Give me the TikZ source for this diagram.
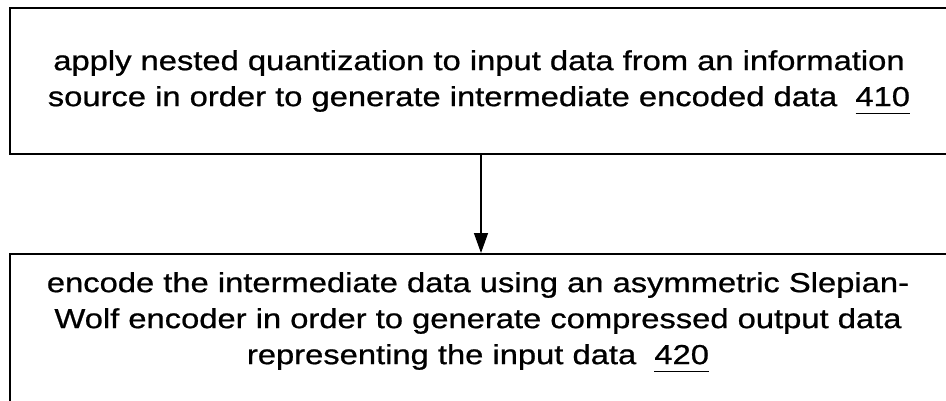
\documentclass[tikz,border=0pt]{standalone}
\usepackage{fontspec}
\setmainfont[FakeStretch=1.19,FakeBold=0.8]{Liberation Sans}
\usetikzlibrary{arrows.meta}
\newcommand{\refnum}[1]{\underline{#1\vphantom{p}}}

\begin{document}
\begin{tikzpicture}[x=1pt,y=1pt]
    \tikzstyle{frame} = [draw, line width=1.8pt, rectangle, minimum width=940pt, inner sep=0pt]
    \tikzstyle{txt} = [draw=none, fill=none, align=center, font=\fontsize{27.5}{36}\selectfont]
    \useasboundingbox (0,0) rectangle (946,400);

    \node[frame, minimum height=146pt] (quant) at (480,319) {};
    \node[frame, minimum height=170pt, anchor=north] (enc) at (480,147) {};

    \node[txt] (quanttext) at (479,318) {apply nested quantization to input data from an information\\
        source in order to generate intermediate encoded data\ \ \refnum{410}};
    \node[txt] (enctext) at (478,78) {encode the intermediate data using an asymmetric Slepian-\\
        Wolf encoder in order to generate compressed output data\\
        representing the input data\ \ \refnum{420}};

    \draw[line width=1.4pt, -{Triangle[width=14pt,length=20pt]}]
        ([xshift=1pt]quant.south) -- ([xshift=1pt]enc.north);
\end{tikzpicture}
\end{document}
